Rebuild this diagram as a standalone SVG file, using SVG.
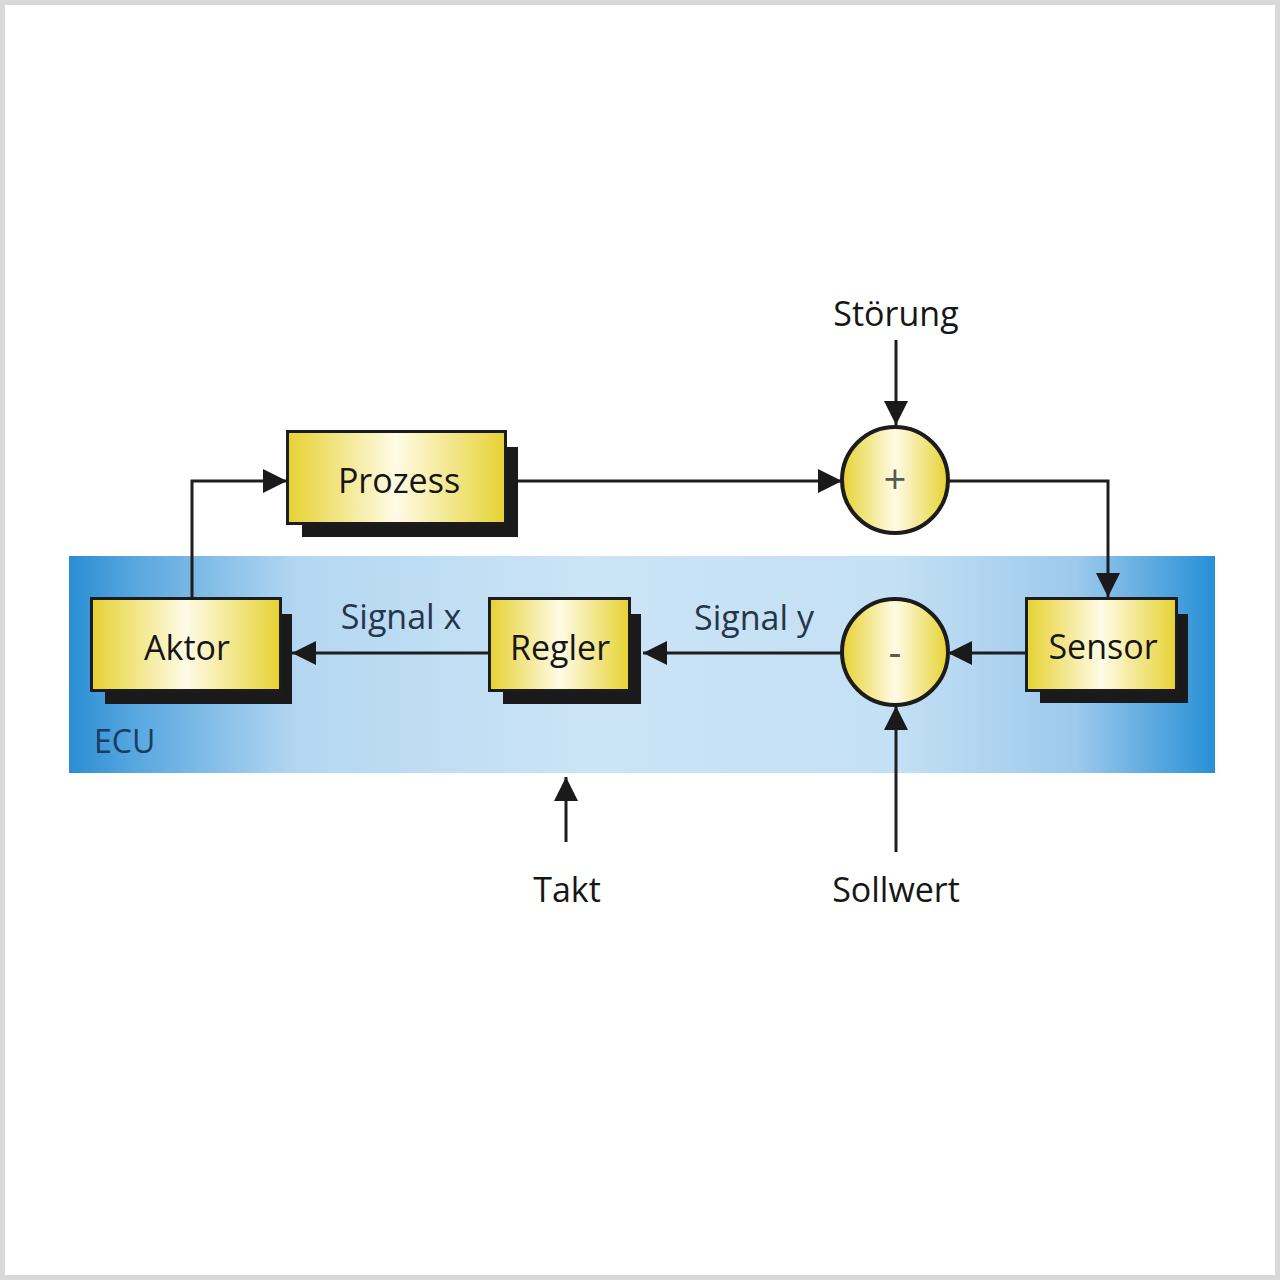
<svg xmlns="http://www.w3.org/2000/svg" width="1280" height="1280" viewBox="0 0 1280 1280">
<defs>
<linearGradient id="ecu" x1="0" y1="0" x2="1" y2="0">
<stop offset="0" stop-color="#2a8dd3"/>
<stop offset="0.06" stop-color="#5aa8e0"/>
<stop offset="0.2" stop-color="#b4d7f1"/>
<stop offset="0.45" stop-color="#cbe4f6"/>
<stop offset="0.72" stop-color="#c4e0f4"/>
<stop offset="0.88" stop-color="#9cc9ec"/>
<stop offset="1" stop-color="#2790d6"/>
</linearGradient>
<linearGradient id="yel" x1="0" y1="0" x2="1" y2="0">
<stop offset="0" stop-color="#e6d232"/>
<stop offset="0.5" stop-color="#fffbe6"/>
<stop offset="1" stop-color="#e6d232"/>
</linearGradient>
<marker id="ah" viewBox="0 0 24 24" refX="24" refY="12" markerWidth="24" markerHeight="24" markerUnits="userSpaceOnUse" orient="auto">
<path d="M0,0 L24,12 L0,24 Z" fill="#1a1a1a"/>
</marker>
<style>
.box{fill:url(#yel);stroke:#1c1c1c;stroke-width:3}
.sh{fill:#1a1a1a}
.circ{fill:url(#yel);stroke:#1c1c1c;stroke-width:4}
.lbl{font-family:"Open Sans","Noto Sans",sans-serif;font-size:34px;fill:#161616;text-anchor:middle}
.sig{font-family:"Open Sans","Noto Sans",sans-serif;font-size:34px;fill:#26364a;text-anchor:middle}
.op{font-family:"Open Sans","Noto Sans",sans-serif;font-size:40px;fill:#5a5a50;text-anchor:middle}
.ln{fill:none;stroke:#1e1e1e;stroke-width:3;marker-end:url(#ah)}
</style>
</defs>
<rect x="0" y="0" width="1280" height="1280" fill="#ffffff"/>
<rect x="2.5" y="2.5" width="1275" height="1275" fill="none" stroke="#d9d9d9" stroke-width="5"/>

<g id="ecu-area">
<rect x="69" y="556" width="1146" height="217" fill="url(#ecu)"/>
<text x="94" y="753" font-family="Open Sans, Noto Sans, sans-serif" font-size="32" fill="#1b3b62">ECU</text>
</g>

<g id="connectors">
<polyline class="ln" points="192,597 192,481 287,481"/>
<polyline class="ln" points="518,481 842,481"/>
<polyline class="ln" points="948,481 1108,481 1108,597"/>
<polyline class="ln" points="896,340 896,425"/>
<polyline class="ln" points="1026,653 948,653"/>
<polyline class="ln" points="842,653 643,653"/>
<polyline class="ln" points="489,653 292,653"/>
<polyline class="ln" points="896,852 896,706"/>
<polyline class="ln" points="566,842 566,777"/>
</g>

<g id="prozess">
<rect class="sh" x="302" y="447" width="216" height="90"/>
<rect class="box" x="287.5" y="431.5" width="218" height="92"/>
<text class="lbl" x="399" y="493">Prozess</text>
</g>

<g id="sum-plus">
<circle class="circ" cx="895" cy="480" r="53"/>
<text class="op" x="895" y="494">+</text>
</g>

<g id="aktor">
<rect class="sh" x="105" y="614" width="187" height="90"/>
<rect class="box" x="91.5" y="598.5" width="189" height="92"/>
<text class="lbl" x="187" y="660">Aktor</text>
</g>

<g id="regler">
<rect class="sh" x="503" y="614" width="138" height="90"/>
<rect class="box" x="489.5" y="598.5" width="140" height="92"/>
<text class="lbl" x="560" y="660">Regler</text>
</g>

<g id="sum-minus">
<circle class="circ" cx="895" cy="652" r="53"/>
<text class="op" x="895" y="666">-</text>
</g>

<g id="sensor">
<rect class="sh" x="1040" y="614" width="148" height="89"/>
<rect class="box" x="1026.5" y="598.5" width="150" height="92"/>
<text class="lbl" x="1103" y="659">Sensor</text>
</g>

<g id="labels">
<text class="sig" x="401" y="629">Signal x</text>
<text class="sig" x="754" y="630">Signal y</text>
<text class="lbl" x="896" y="326">Störung</text>
<text class="lbl" x="567" y="902">Takt</text>
<text class="lbl" x="896" y="902">Sollwert</text>
</g>
</svg>
